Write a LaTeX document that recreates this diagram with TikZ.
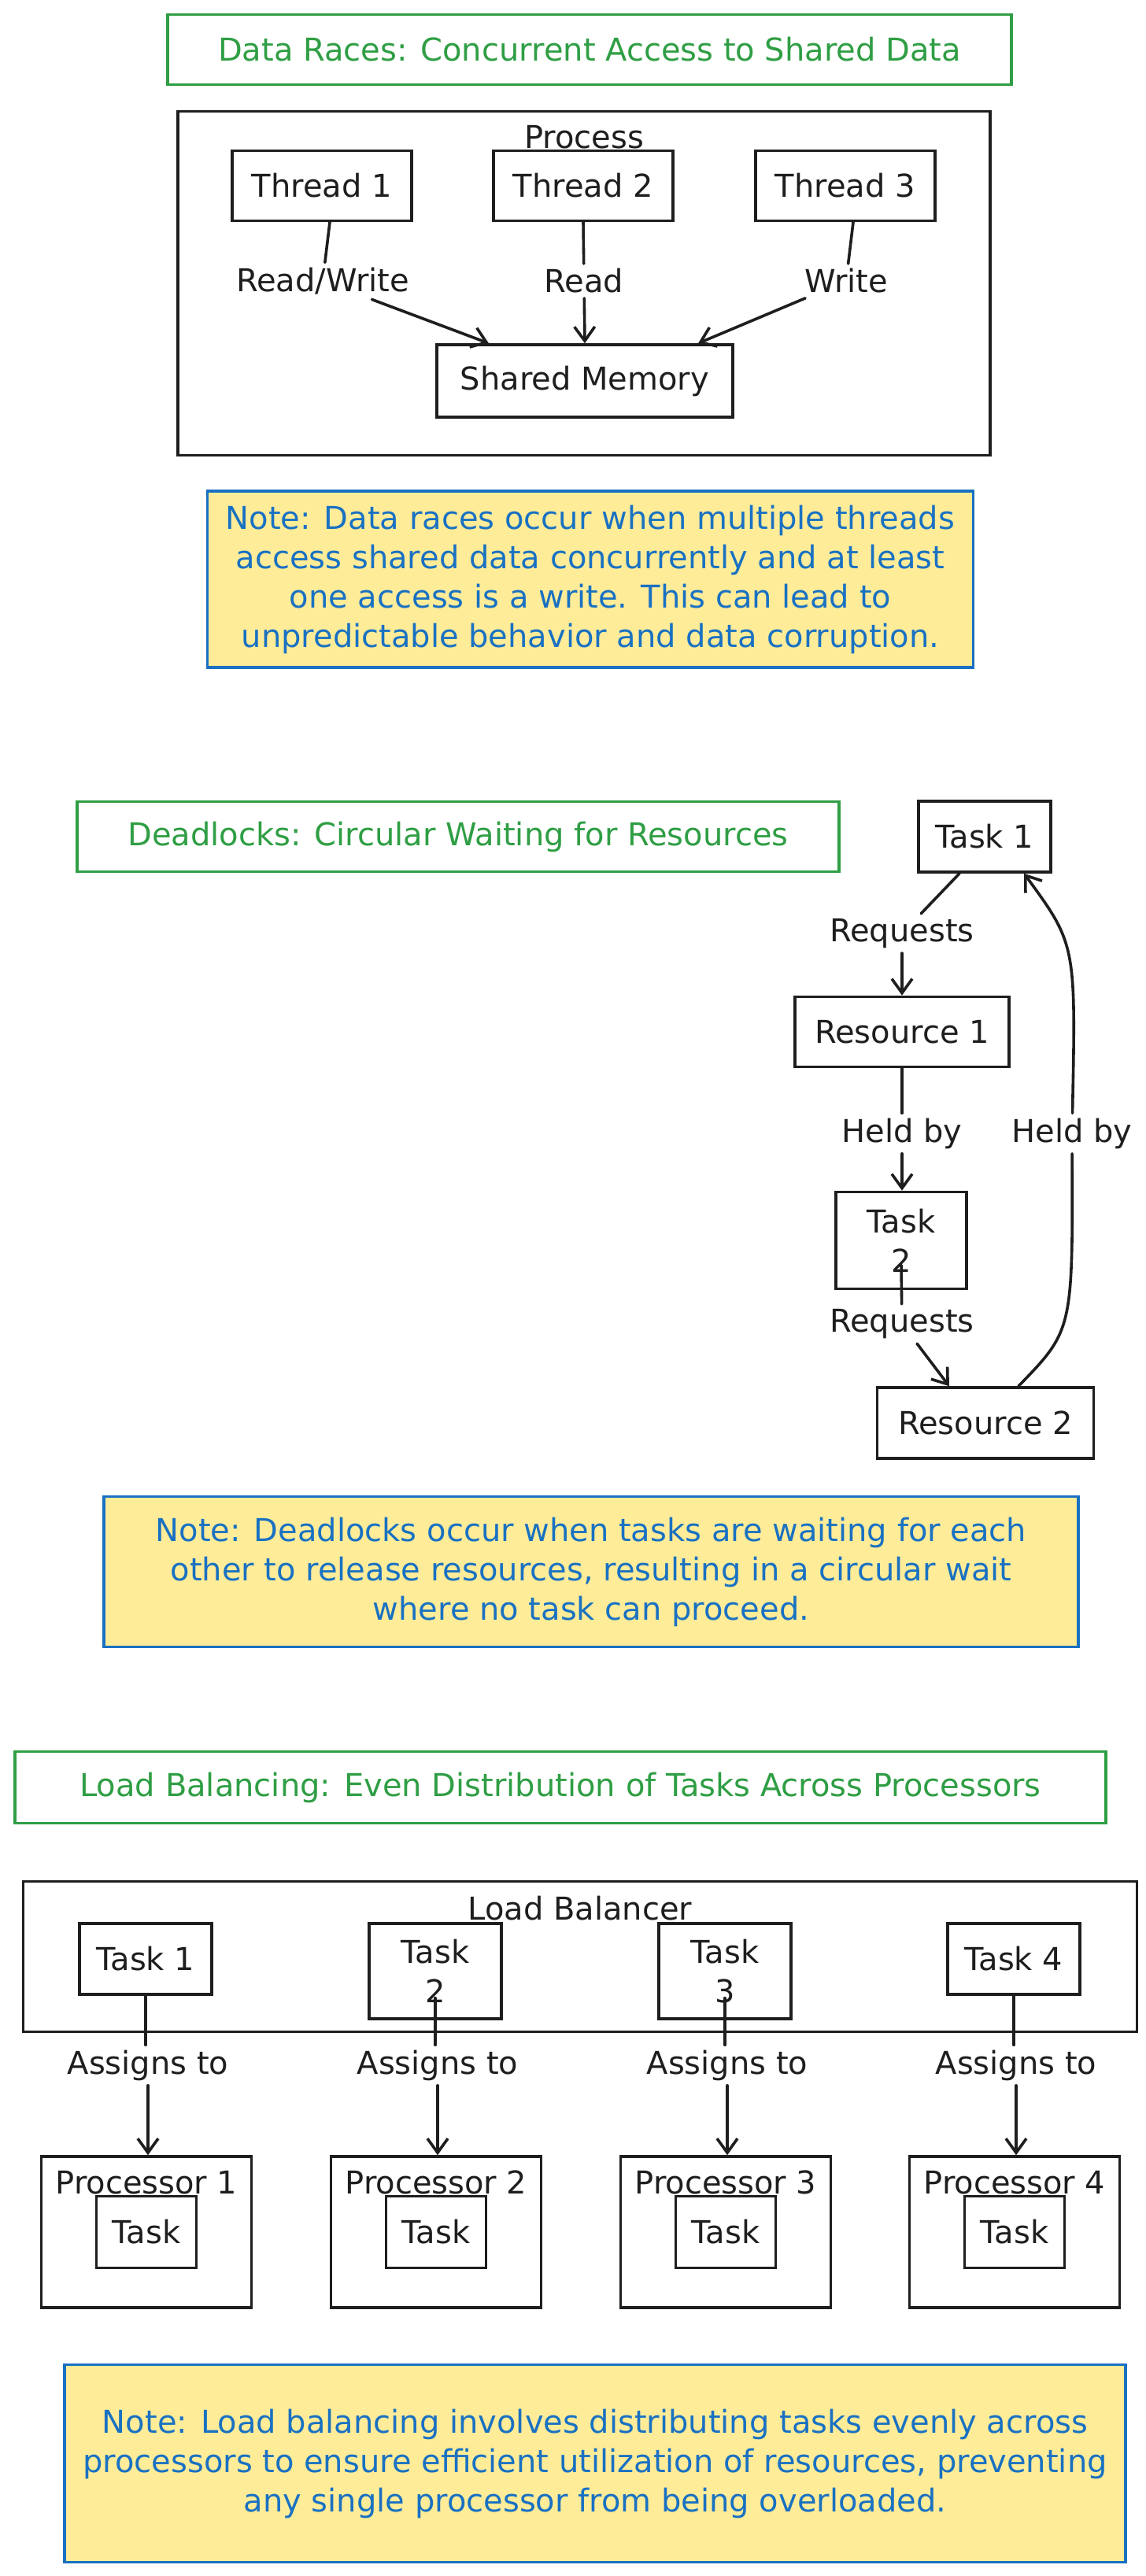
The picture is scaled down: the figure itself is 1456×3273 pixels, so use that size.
\documentclass[tikz,border=0pt]{standalone}
\usepackage{fontspec}
\setmainfont{DejaVu Sans}
\usetikzlibrary{arrows.meta}
\definecolor{ink}{HTML}{1E1E1E}
\definecolor{leaf}{HTML}{2F9E44}
\definecolor{sea}{HTML}{1971C2}
\definecolor{sand}{HTML}{FFEC99}
\newcommand{\sketchfont}{\fontsize{20pt}{25pt}\selectfont}

\begin{document}
\begin{tikzpicture}[x=0.5pt, y=-0.5pt,
  every node/.style={font=\sketchfont, inner sep=0pt, text=ink},
  box/.style={draw=ink, line width=1.8pt, align=center},
  heading/.style={draw=leaf, line width=1.8pt, text=leaf},
  note/.style={draw=sea, fill=sand, line width=1.8pt, text=sea, align=center},
  tag/.style={fill=white, inner sep=3pt},
  wire/.style={draw=ink, line width=1.8pt, line cap=round},
  arr/.style={wire, -{Straight Barb[length=9pt, width=13pt]}}]
  \fill[white] (0,0) rectangle (1456,3273);
  \useasboundingbox (0,0) rectangle (1456,3273);

  % data races
  \node[heading, minimum width=536pt, minimum height=44.5pt] (races) at (749,63)
    {Data Races: Concurrent Access to Shared Data};
  \node[box, minimum width=516pt, minimum height=218.5pt,
    label={[anchor=center, yshift=-17pt]north:Process}] (proc) at (742,360) {};
  \foreach \i/\x in {1/409, 2/741, 3/1074}
    \node[box, minimum width=114pt, minimum height=44.5pt] (th\i) at (\x,236) {Thread \i};
  \node[box, minimum width=188pt, minimum height=46pt] (mem) at (743,484) {Shared Memory};
  \node[tag] (rw) at (410,357) {Read/Write};
  \node[tag] (rd) at (742,357) {Read};
  \node[tag] (wr) at (1075,357) {Write};
  \draw[wire] ([xshift=5pt]th1.south) -- (rw);
  \draw[arr] (rw) -- ([xshift=-61pt]mem.north);
  \draw[wire] (th2.south) -- (rd);
  \draw[arr] (rd) -- (mem.north);
  \draw[wire] ([xshift=5pt]th3.south) -- (wr);
  \draw[arr] (wr) -- ([xshift=72pt]mem.north);
  \node[note, minimum width=486.5pt, minimum height=112pt] (racenote) at (750,736)
    {Note: Data races occur when multiple threads\\
     access shared data concurrently and at least\\
     one access is a write. This can lead to\\
     unpredictable behavior and data corruption.};

  % deadlocks
  \node[heading, minimum width=484pt, minimum height=44.5pt] (locks) at (582,1063)
    {Deadlocks: Circular Waiting for Resources};
  \node[box, minimum width=84pt, minimum height=45pt] (dt1) at (1251,1063) {Task 1};
  \node[box, minimum width=136pt, minimum height=44.5pt] (res1) at (1146,1311) {Resource 1};
  \node[box, minimum width=83pt, minimum height=61.5pt] (dt2) at (1145,1576) {Task\\2};
  \node[box, minimum width=137.5pt, minimum height=45pt] (res2) at (1252,1808) {Resource 2};
  \node[tag] (req1) at (1146,1186) {Requests};
  \node[tag] (held1) at (1146,1440) {Held by};
  \node[tag] (req2) at (1146,1682) {Requests};
  \node[tag] (held2) at (1362,1440) {Held by};
  \coordinate (bend) at (1363,1690);
  \coordinate (hook) at (1367,1200);
  \draw[wire] ([xshift=-16pt]dt1.south) -- (req1);
  \draw[arr] (req1) -- (req1 |- res1.north);
  \draw[wire] (res1.south) -- (held1);
  \draw[arr] (held1) -- (held1 |- dt2.north);
  \draw[wire] ([yshift=16pt]dt2.south) -- (req2);
  \draw[arr] (req2) -- ([xshift=-23pt]res2.north);
  \draw[wire] ([xshift=21pt]res2.north) .. controls (bend) .. (held2);
  \draw[arr] (held2) .. controls (hook) .. ([xshift=25pt]dt1.south);
  \node[note, minimum width=619pt, minimum height=95.5pt] (locknote) at (751,1997)
    {Note: Deadlocks occur when tasks are waiting for each\\
     other to release resources, resulting in a circular wait\\
     where no task can proceed.};

  % load balancing
  \node[heading, minimum width=693pt, minimum height=45.5pt] (balance) at (712,2271)
    {Load Balancing: Even Distribution of Tasks Across Processors};
  \node[box, minimum width=707.5pt, minimum height=95.5pt,
    label={[anchor=center, yshift=-18pt]north:Load Balancer}] (lb) at (737,2486) {};
  \foreach \i/\x/\txt/\tall/\lift in {1/185/{Task 1}/45pt/0pt, 2/553/{Task\\2}/60.5pt/14pt,
      3/921/{Task\\3}/60.5pt/14pt, 4/1288/{Task 4}/45pt/0pt} {
    \node[box, anchor=north, minimum width=84pt, minimum height=\tall] (lt\i) at (\x,2442) {\txt};
    \node[tag] (as\i) at (\x+3,2624) {Assigns to};
    \node[box, minimum width=133.5pt, minimum height=96pt,
      label={[anchor=center, yshift=-17.5pt]north:Processor \i}] (pr\i) at (\x+1,2836) {};
    \node[box, minimum width=63.5pt, minimum height=45.5pt] (in\i) at (pr\i.center) {Task};
    \draw[wire] ([yshift=\lift]lt\i.south) -- (lt\i.south |- as\i.north);
    \draw[arr] (as\i) -- (as\i |- pr\i.north);
  }
  \node[note, minimum width=674pt, minimum height=125.5pt] (balancenote) at (756,3130)
    {Note: Load balancing involves distributing tasks evenly across\\
     processors to ensure efficient utilization of resources, preventing\\
     any single processor from being overloaded.};
\end{tikzpicture}
\end{document}
